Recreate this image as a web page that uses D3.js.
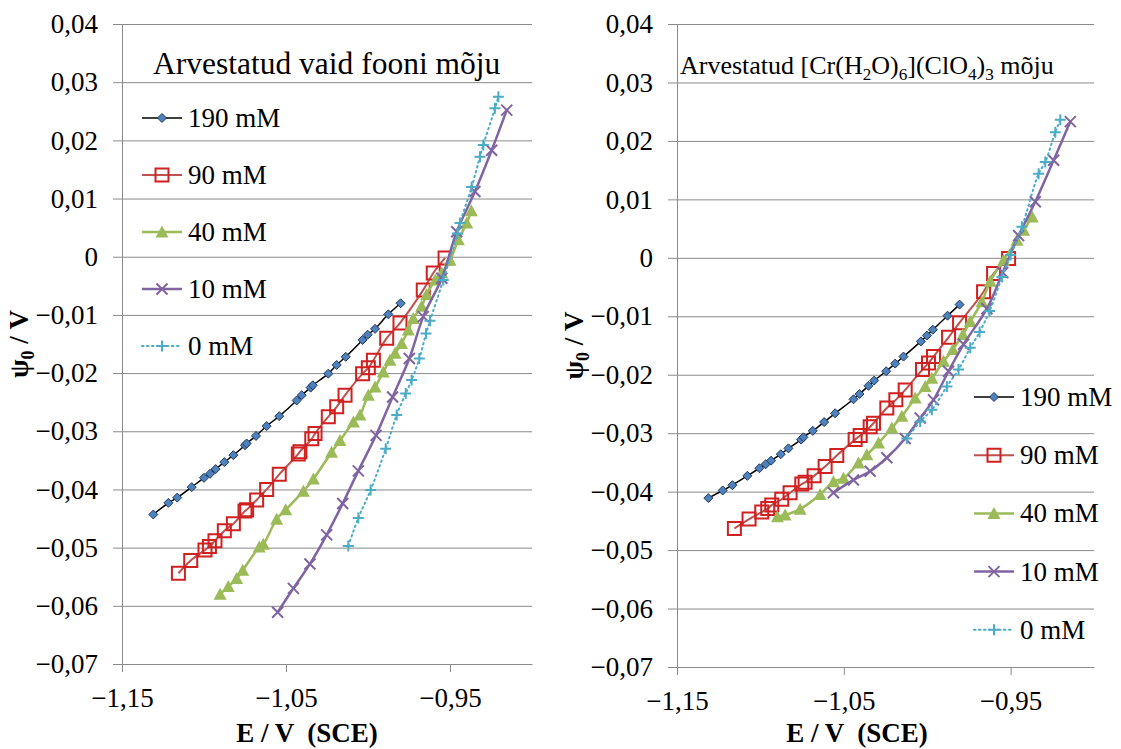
<!DOCTYPE html>
<html>
<head>
<meta charset="utf-8">
<script src="https://cdn.jsdelivr.net/npm/d3@7"></script>
<style>
  body { margin: 0; background: #fff; }
  svg, svg text, svg tspan { font-family: "Liberation Serif", "Times New Roman", serif !important; }
</style>
</head>
<body>
<div class="chart"></div>
<script>
// series labels and ticks
const seriesNames = ['190 mM', '90 mM', '40 mM', '10 mM', '0 mM'];
const xTicks = [-1.15, -1.05, -0.95];
const yTicks = [0.04, 0.03, 0.02, 0.01, 0, -0.01, -0.02, -0.03, -0.04, -0.05, -0.06, -0.07];

// left panel: [E, psi0]
const left190 = [[-1.1309,-0.0443],[-1.1217,-0.0423],[-1.1163,-0.0414],[-1.1075,-0.0396],[-1.1000,-0.0380],[-1.0963,-0.0373],[-1.0929,-0.0365],[-1.0876,-0.0353],[-1.0821,-0.0341],[-1.0750,-0.0324],[-1.0740,-0.0321],[-1.0683,-0.0308],[-1.0618,-0.0291],[-1.0541,-0.0274],[-1.0435,-0.0247],[-1.0404,-0.0238],[-1.0350,-0.0225],[-1.0337,-0.0221],[-1.0242,-0.0201],[-1.0191,-0.0186],[-1.0136,-0.0172],[-1.0033,-0.0143],[-1.0002,-0.0134],[-0.9957,-0.0124],[-0.9876,-0.0099],[-0.9801,-0.0080]];
const left90 = [[-1.1156,-0.0544],[-1.1081,-0.0522],[-1.0994,-0.0504],[-1.0967,-0.0498],[-1.0933,-0.0488],[-1.0876,-0.0471],[-1.0821,-0.0459],[-1.0750,-0.0437],[-1.0740,-0.0435],[-1.0679,-0.0418],[-1.0618,-0.0400],[-1.0541,-0.0374],[-1.0425,-0.0339],[-1.0415,-0.0335],[-1.0343,-0.0313],[-1.0323,-0.0304],[-1.0242,-0.0275],[-1.0191,-0.0258],[-1.0140,-0.0238],[-1.0033,-0.0201],[-0.9998,-0.0191],[-0.9967,-0.0178],[-0.9886,-0.0140],[-0.9805,-0.0114],[-0.9663,-0.0057],[-0.9602,-0.0028],[-0.9530,-0.0002]];
const left40 = [[-1.0902,-0.0580],[-1.0852,-0.0567],[-1.0801,-0.0553],[-1.0764,-0.0539],[-1.0663,-0.0499],[-1.0638,-0.0494],[-1.0557,-0.0451],[-1.0502,-0.0435],[-1.0394,-0.0403],[-1.0333,-0.0382],[-1.0222,-0.0336],[-1.0171,-0.0316],[-1.0089,-0.0284],[-1.0049,-0.0272],[-0.9998,-0.0238],[-0.9957,-0.0224],[-0.9907,-0.0198],[-0.9866,-0.0178],[-0.9835,-0.0166],[-0.9795,-0.0149],[-0.9754,-0.0126],[-0.9724,-0.0106],[-0.9673,-0.0085],[-0.9642,-0.0065],[-0.9590,-0.0040],[-0.9550,-0.0028],[-0.9500,-0.0006],[-0.9449,0.0029],[-0.9398,0.0058],[-0.9370,0.0079]];
const left10 = [[-1.0551,-0.0611],[-1.0455,-0.0570],[-1.0354,-0.0528],[-1.0252,-0.0478],[-1.0154,-0.0424],[-1.0059,-0.0368],[-0.9951,-0.0307],[-0.9850,-0.0241],[-0.9748,-0.0175],[-0.9663,-0.0103],[-0.9550,-0.0037],[-0.9459,0.0043],[-0.9348,0.0112],[-0.9246,0.0183],[-0.9154,0.0252]];
const left0 = [[-1.0120,-0.0497],[-1.0059,-0.0449],[-0.9984,-0.0401],[-0.9892,-0.0330],[-0.9825,-0.0272],[-0.9770,-0.0235],[-0.9734,-0.0212],[-0.9687,-0.0175],[-0.9646,-0.0132],[-0.9622,-0.0110],[-0.9541,-0.0040],[-0.9455,0.0040],[-0.9439,0.0058],[-0.9368,0.0120],[-0.9317,0.0172],[-0.9297,0.0192],[-0.9226,0.0255],[-0.9205,0.0275]];

// right panel
const right190 = [[-1.1312,-0.0411],[-1.1226,-0.0398],[-1.1168,-0.0389],[-1.1078,-0.0373],[-1.1006,-0.0360],[-1.0968,-0.0353],[-1.0936,-0.0347],[-1.0878,-0.0336],[-1.0832,-0.0326],[-1.0756,-0.0311],[-1.0742,-0.0307],[-1.0686,-0.0296],[-1.0618,-0.0281],[-1.0552,-0.0266],[-1.0442,-0.0242],[-1.0406,-0.0233],[-1.0352,-0.0219],[-1.0318,-0.0210],[-1.0246,-0.0194],[-1.0192,-0.0181],[-1.0142,-0.0169],[-1.0038,-0.0143],[-1.0002,-0.0133],[-0.9966,-0.0123],[-0.9878,-0.0099],[-0.9806,-0.0080]];
const right90 = [[-1.1156,-0.0463],[-1.1068,-0.0447],[-1.0992,-0.0435],[-1.0956,-0.0429],[-1.0932,-0.0423],[-1.0872,-0.0413],[-1.0822,-0.0402],[-1.0752,-0.0387],[-1.0732,-0.0384],[-1.0678,-0.0373],[-1.0612,-0.0357],[-1.0542,-0.0338],[-1.0432,-0.0311],[-1.0402,-0.0304],[-1.0342,-0.0289],[-1.0322,-0.0283],[-1.0242,-0.0257],[-1.0188,-0.0243],[-1.0132,-0.0226],[-1.0028,-0.0191],[-0.9992,-0.0180],[-0.9962,-0.0169],[-0.9872,-0.0136],[-0.9806,-0.0111],[-0.9662,-0.0058],[-0.9602,-0.0027],[-0.9512,-0.0001]];
const right40 = [[-1.0898,-0.0443],[-1.0852,-0.0440],[-1.0762,-0.0430],[-1.0642,-0.0405],[-1.0562,-0.0383],[-1.0502,-0.0377],[-1.0412,-0.0351],[-1.0362,-0.0337],[-1.0292,-0.0317],[-1.0212,-0.0291],[-1.0152,-0.0271],[-1.0072,-0.0240],[-1.0012,-0.0220],[-0.9972,-0.0206],[-0.9902,-0.0177],[-0.9846,-0.0157],[-0.9786,-0.0131],[-0.9742,-0.0109],[-0.9672,-0.0075],[-0.9622,-0.0040],[-0.9542,-0.0004],[-0.9462,0.0030],[-0.9422,0.0047],[-0.9370,0.0070]];
const right10 = [[-1.0562,-0.0402],[-1.0442,-0.0380],[-1.0342,-0.0365],[-1.0242,-0.0342],[-1.0132,-0.0309],[-1.0042,-0.0274],[-0.9962,-0.0243],[-0.9872,-0.0194],[-0.9782,-0.0148],[-0.9642,-0.0087],[-0.9547,-0.0025],[-0.9452,0.0038],[-0.9352,0.0096],[-0.9242,0.0167],[-0.9142,0.0233]];
const right0 = [[-1.0122,-0.0309],[-1.0042,-0.0280],[-0.9972,-0.0260],[-0.9882,-0.0220],[-0.9812,-0.0191],[-0.9742,-0.0154],[-0.9686,-0.0127],[-0.9626,-0.0091],[-0.9552,-0.0033],[-0.9500,0.0005],[-0.9432,0.0053],[-0.9332,0.0144],[-0.9292,0.0164],[-0.9232,0.0215],[-0.9202,0.0236]];

const styles = [
  {line: '#000000', width: 1.5, dash: null, marker: 'diamond', fill: '#4F81BD', stroke: '#1F3B5E'},
  {line: '#C0504D', width: 2, dash: null, marker: 'square', fill: 'none', stroke: '#D02020'},
  {line: '#9BBB59', width: 2.5, dash: null, marker: 'triangle', fill: '#9BBB59', stroke: '#9BBB59'},
  {line: '#8064A2', width: 2.5, dash: null, marker: 'x', fill: 'none', stroke: '#8064A2'},
  {line: '#4BACC6', width: 2, dash: '1.5,3.5', marker: 'plus', fill: 'none', stroke: '#4BACC6'}
];

const FONT = '"Liberation Serif", "Times New Roman", serif';
const W = 1121, H = 749;
const svg = d3.select('.chart').append('svg').attr('width', W).attr('height', H)
  .style('font-family', FONT);

const fmt = d => d === 0 ? '0' : d3.format('.2f')(d).replace('.', ',');

function markerPath(type) {
  if (type === 'diamond') return 'M0,-4.5L4.5,0L0,4.5L-4.5,0Z';
  if (type === 'square') return 'M-6.5,-6.5H6.5V6.5H-6.5Z';
  if (type === 'triangle') return 'M0,-6.5L6.5,5.5L-6.5,5.5Z';
  if (type === 'x') return 'M-5.5,-5.5L5.5,5.5M-5.5,5.5L5.5,-5.5';
  return 'M-5.5,0H5.5M0,-5.5V5.5';
}

function drawMarker(g, st) {
  g.append('path').attr('d', markerPath(st.marker))
    .attr('fill', st.fill).attr('stroke', st.stroke)
    .attr('stroke-width', st.marker === 'diamond' ? 1 : (st.marker === 'triangle' ? 0 : 2));
}

function panel(opt) {
  const x = d3.scaleLinear().domain([-1.15, -0.90]).range([opt.left, opt.right]);
  const y = d3.scaleLinear().domain([-0.07, 0.04]).range([opt.bottom, 24]);
  const g = svg.append('g');

  // grid
  g.append('g').attr('transform', `translate(${opt.left},0)`)
    .call(d3.axisLeft(y).tickValues(yTicks).tickSize(-(opt.right - opt.left)).tickFormat('').tickSizeOuter(0))
    .call(a => a.select('.domain').remove())
    .call(a => a.selectAll('line').attr('stroke', '#8a8a8a'));

  // y axis with outward ticks
  g.append('g').attr('transform', `translate(${opt.left},0)`)
    .call(d3.axisLeft(y).tickValues(yTicks).tickSize(9).tickPadding(15).tickSizeOuter(0).tickFormat(fmt))
    .attr('font-family', FONT).attr('font-size', 27)
    .call(a => a.selectAll('line, .domain').attr('stroke', '#8a8a8a'))
    .call(a => a.selectAll('text').attr('fill', '#000').style('font-family', FONT));

  // x axis
  g.append('g').attr('transform', `translate(0,${opt.bottom})`)
    .call(d3.axisBottom(x).tickValues(xTicks).tickSize(8).tickPadding(16).tickSizeOuter(0).tickFormat(fmt))
    .attr('font-family', FONT).attr('font-size', 27)
    .call(a => a.selectAll('line, .domain').attr('stroke', '#8a8a8a'))
    .call(a => a.selectAll('text').attr('fill', '#000').style('font-family', FONT));

  const line = d3.line().x(d => x(d[0])).y(d => y(d[1])).curve(d3.curveCatmullRom.alpha(0.5));

  opt.data.forEach((data, i) => {
    const st = styles[i];
    g.append('path').datum(data).attr('d', line)
      .attr('fill', 'none').attr('stroke', st.line).attr('stroke-width', st.width)
      .attr('stroke-dasharray', st.dash).attr('stroke-linecap', st.dash ? 'round' : 'butt');
    g.selectAll(null).data(data).enter().append('g')
      .attr('transform', d => `translate(${x(d[0])},${y(d[1])})`)
      .each(function() { drawMarker(d3.select(this), st); });
  });

  // legend
  seriesNames.forEach((name, i) => {
    const st = styles[i];
    const ly = opt.legendY + i * opt.legendStep;
    const lg = g.append('g');
    lg.append('line').attr('x1', opt.legendX).attr('x2', opt.legendX + 40)
      .attr('y1', ly).attr('y2', ly)
      .attr('stroke', st.line).attr('stroke-width', st.width)
      .attr('stroke-dasharray', st.dash).attr('stroke-linecap', st.dash ? 'round' : 'butt');
    const m = lg.append('g').attr('transform', `translate(${opt.legendX + 20},${ly})`);
    drawMarker(m, st);
    lg.append('text').attr('x', opt.legendX + 46).attr('y', ly + 9)
      .attr('font-size', 27).style('font-family', FONT).text(name);
  });

  // titles
  const t = g.append('text').attr('x', opt.titleX).attr('y', 74)
    .attr('font-size', opt.titleSize).style('font-family', FONT).style('white-space', 'pre');
  let shift = 0;
  opt.title.forEach(part => {
    if (part.sub) {
      t.append('tspan').attr('font-size', opt.titleSize * 0.66).attr('dy', 6).text(part.sub);
      shift = -6;
    } else {
      t.append('tspan').attr('dy', shift).text(part.t);
      shift = 0;
    }
  });

  g.append('text').attr('x', opt.xTitleX).attr('y', 742)
    .attr('text-anchor', 'middle').attr('font-size', 27).attr('font-weight', 'bold')
    .style('font-family', FONT).style('white-space', 'pre').text('E / V  (SCE)');

  const yt = g.append('text')
    .attr('transform', `translate(${opt.yTitleX},${(24 + opt.bottom) / 2}) rotate(-90)`)
    .attr('text-anchor', 'middle').attr('font-size', 27).attr('font-weight', 'bold')
    .style('font-family', FONT).style('white-space', 'pre');
  yt.append('tspan').text('ψ');
  yt.append('tspan').attr('font-size', 18).attr('dy', 6).text('0');
  yt.append('tspan').attr('dy', -6).text(' / V');
}

panel({
  left: 122, right: 532, bottom: 664,
  data: [left190, left90, left40, left10, left0],
  legendX: 142, legendY: 118, legendStep: 57,
  titleX: 153, titleSize: 31.5, title: [{t: 'Arvestatud vaid fooni mõju'}],
  xTitleX: 307, yTitleX: 28
});

panel({
  left: 677, right: 1094, bottom: 667,
  data: [right190, right90, right40, right10, right0],
  legendX: 974, legendY: 397, legendStep: 58.2,
  titleX: 680, titleSize: 26,
  title: [{t: 'Arvestatud [Cr(H'}, {sub: '2'}, {t: 'O)'}, {sub: '6'}, {t: '](ClO'}, {sub: '4'}, {t: ')'}, {sub: '3'}, {t: ' mõju'}],
  xTitleX: 857, yTitleX: 583
});
</script>
</body>
</html>
